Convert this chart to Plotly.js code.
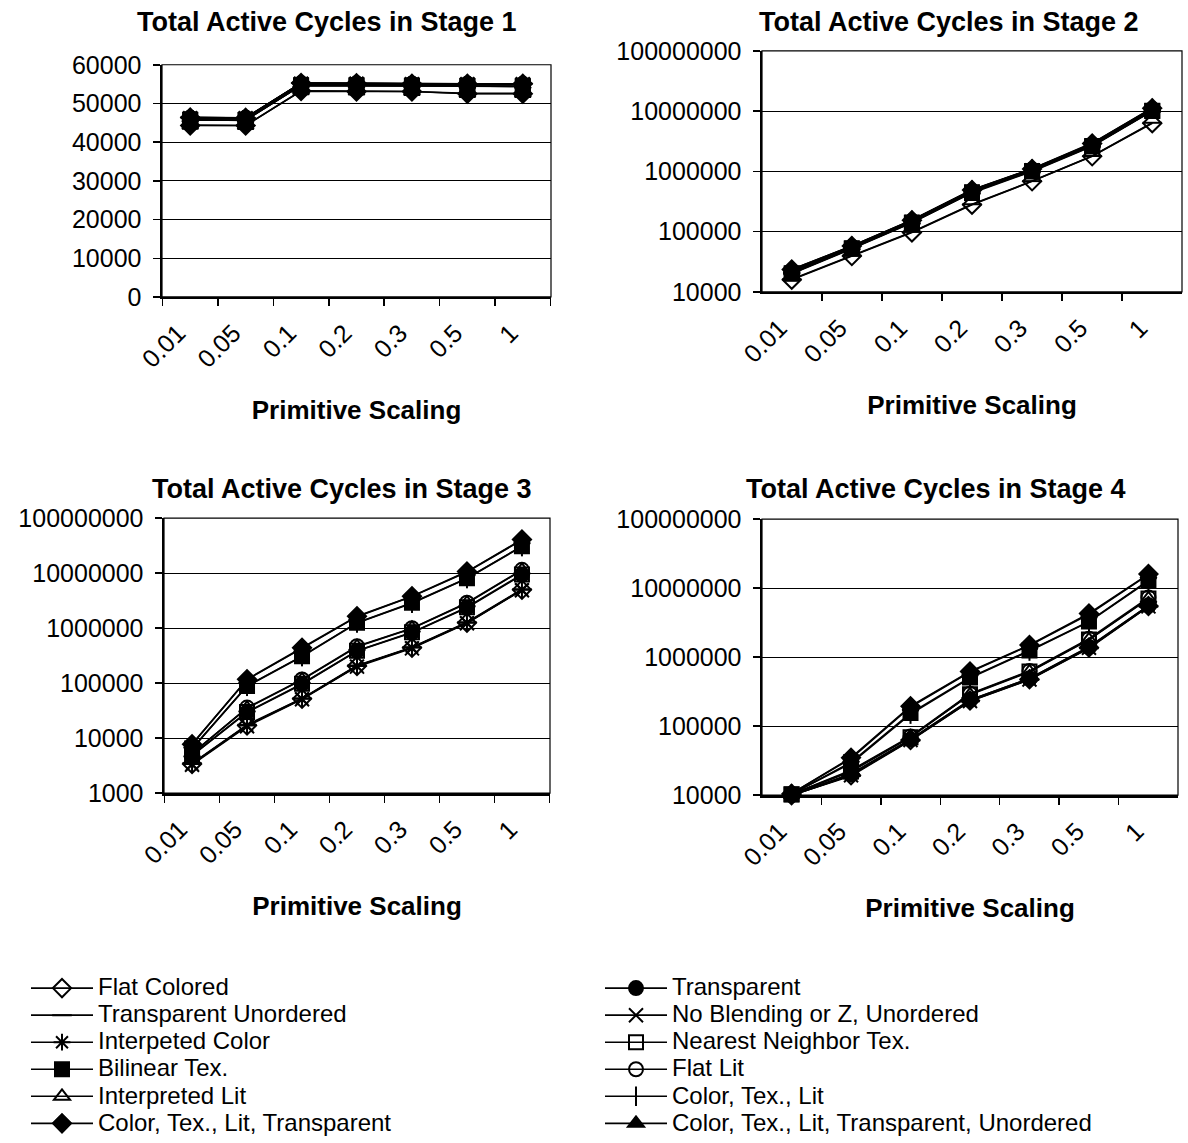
<!DOCTYPE html>
<html>
<head>
<meta charset="utf-8">
<script src="https://cdn.plot.ly/plotly-3.0.1.min.js"></script>
<style>
html,body{margin:0;padding:0;background:#fff;width:1188px;height:1143px;overflow:hidden;}
#chart{position:absolute;left:0;top:0;width:1188px;height:1143px;}
</style>
</head>
<body>
<div id="chart"></div>
<script>
// ---------- data ----------
const categories = ['0.01', '0.05', '0.1', '0.2', '0.3', '0.5', '1'];

const seriesNames = [
  'Flat Colored',
  'Transparent',
  'Transparent Unordered',
  'No Blending or Z, Unordered',
  'Interpeted Color',
  'Nearest Neighbor Tex.',
  'Bilinear Tex.',
  'Flat Lit',
  'Interpreted Lit',
  'Color, Tex., Lit',
  'Color, Tex., Lit, Transparent',
  'Color, Tex., Lit, Transparent, Unordered'
];

const stageTitles = [
  'Total Active Cycles in Stage 1',
  'Total Active Cycles in Stage 2',
  'Total Active Cycles in Stage 3',
  'Total Active Cycles in Stage 4'
];

const stage1Cycles = [
  [46400, 46300, 55300, 55200, 55100, 55100, 55100],
  [46300, 46300, 55200, 55100, 55100, 55000, 55000],
  [46400, 46200, 55300, 55200, 55100, 55000, 55100],
  [46200, 46200, 55100, 55100, 55000, 55000, 55000],
  [46300, 46200, 55200, 55100, 55000, 55000, 55000],
  [45800, 45700, 54700, 54700, 54600, 54500, 54500],
  [45700, 45700, 54600, 54600, 54500, 54500, 54400],
  [46300, 46300, 55200, 55200, 55100, 55100, 55000],
  [46200, 46100, 55100, 55000, 55000, 54900, 54900],
  [45800, 45600, 54700, 54600, 54500, 54400, 54400],
  [44300, 44300, 53200, 53100, 53100, 52500, 52500],
  [44400, 44300, 53300, 53200, 53100, 52600, 52600]
];

const stage2Cycles = [
  [16000, 39500, 97000, 280000, 685000, 1780000, 6300000],
  [21000, 54000, 146000, 460000, 1050000, 2700000, 10400000],
  [16200, 40000, 99000, 285000, 690000, 1800000, 6400000],
  [20500, 53000, 144000, 455000, 1040000, 2650000, 10200000],
  [21000, 55000, 148000, 465000, 1070000, 2750000, 10500000],
  [20000, 52000, 140000, 440000, 1000000, 2600000, 10000000],
  [20500, 53000, 142000, 450000, 1020000, 2650000, 10100000],
  [22000, 56000, 150000, 475000, 1080000, 2800000, 10800000],
  [22500, 57000, 152000, 480000, 1090000, 2850000, 11000000],
  [23000, 57000, 153000, 485000, 1090000, 2850000, 11000000],
  [23500, 58000, 155000, 490000, 1100000, 2900000, 11200000],
  [23500, 58000, 156000, 495000, 1110000, 2950000, 11300000]
];

const stage3Cycles = [
  [3400, 17000, 52000, 205000, 440000, 1260000, 5000000],
  [4800, 29500, 96000, 385000, 830000, 2350000, 9300000],
  [3500, 17500, 53000, 210000, 450000, 1280000, 5100000],
  [3300, 16500, 51000, 200000, 430000, 1230000, 4900000],
  [3400, 17000, 52000, 205000, 445000, 1250000, 5000000],
  [4900, 30000, 98000, 390000, 840000, 2400000, 9500000],
  [6500, 89000, 310000, 1260000, 2900000, 8100000, 31000000],
  [5200, 36000, 117000, 470000, 1000000, 2900000, 11500000],
  [5300, 35000, 115000, 460000, 990000, 2850000, 11300000],
  [6400, 88000, 305000, 1240000, 2850000, 8000000, 30500000],
  [7800, 118000, 440000, 1650000, 3800000, 10700000, 41000000],
  [7700, 116000, 430000, 1620000, 3750000, 10500000, 40000000]
];

const stage4Cycles = [
  [10000, 19500, 63000, 235000, 480000, 1380000, 5500000],
  [10100, 20000, 64000, 240000, 490000, 1400000, 5600000],
  [10000, 19000, 62000, 230000, 470000, 1350000, 5400000],
  [9900, 19500, 63000, 232000, 475000, 1370000, 5450000],
  [10100, 20500, 65000, 240000, 490000, 1420000, 5600000],
  [10200, 22000, 69000, 290000, 620000, 1800000, 7100000],
  [10300, 30000, 155000, 510000, 1250000, 3300000, 13000000],
  [10300, 23000, 71000, 295000, 630000, 1850000, 7300000],
  [10200, 22500, 70000, 285000, 610000, 1780000, 7000000],
  [10400, 29000, 150000, 500000, 1230000, 3250000, 12700000],
  [10500, 35000, 195000, 620000, 1500000, 4300000, 16000000],
  [10600, 34000, 190000, 610000, 1480000, 4200000, 15700000]
];

// ---------- styles ----------
const symbols = [
  'diamond-open', 'circle', 'line-ew-open', 'x-thin-open', 'asterisk-open', 'square-open',
  'square', 'circle-open', 'triangle-up-open', 'line-ns-open', 'diamond', 'triangle-up'
];
const FONT = 'Arial, "Liberation Sans", Helvetica, sans-serif';
const stages = [stage1Cycles, stage2Cycles, stage3Cycles, stage4Cycles];

const W = 1188, H = 1143;
// plot areas in pixels: [left, right, top, bottom]
const boxes = [
  [162, 551, 65, 298],
  [762, 1182, 51, 293],
  [164, 550, 520, 796],
  [762, 1178, 521, 798]
];
const titleCenters = [[327, 22], [949, 22], [342, 491], [936, 491]];

const traces = [];
stages.forEach((data, s) => {
  const suf = s === 0 ? '' : String(s + 1);
  data.forEach((vals, i) => {
    traces.push({
      type: 'scatter',
      mode: 'lines+markers',
      x: categories,
      y: vals,
      name: '<span style="font-size:24px">' + seriesNames[i] + '</span>',
      xaxis: 'x' + suf,
      yaxis: 'y' + suf,
      cliponaxis: false,
      showlegend: s === 0,
      legend: (i % 2 === 0) ? 'legend' : 'legend2',
      line: {color: '#000', width: 1.6},
      marker: {
        symbol: symbols[i],
        size: 14,
        color: '#000',
        line: {color: '#000', width: 2}
      },
      hoverinfo: 'x+y+name'
    });
  });
});

const legendBase = {
  y: 1 - 973 / H, xanchor: 'left', yanchor: 'top',
  font: {family: FONT, size: 18.5, color: '#000'},
  bgcolor: 'rgba(0,0,0,0)', tracegroupgap: 0, itemwidth: 62
};

const layout = {
  width: W, height: H,
  margin: {l: 0, r: 0, t: 0, b: 0},
  paper_bgcolor: '#fff',
  plot_bgcolor: '#fff',
  font: {family: FONT, color: '#000', size: 22},
  showlegend: true,
  legend: Object.assign({x: 26 / W}, legendBase),
  legend2: Object.assign({x: 600 / W}, legendBase),
  annotations: [],
  shapes: []
};

boxes.forEach((b, s) => {
  const suf = s === 0 ? '' : String(s + 1);
  const isLog = s > 0;
  layout['xaxis' + suf] = {
    domain: [b[0] / W, b[1] / W],
    anchor: 'y' + suf,
    type: 'category',
    tickson: 'boundaries',
    ticks: 'outside', ticklen: 7, tickwidth: 1.5, tickcolor: '#000',
    tickangle: -45,
    tickfont: {family: FONT, size: 25, color: '#000'},
    ticklabelstandoff: 9,
    ticklabelshift: -12,
    showline: true, linecolor: '#000', linewidth: 2.5,
    showgrid: false, zeroline: false,
    automargin: false,
    fixedrange: true,
    title: {text: '<b>Primitive Scaling</b>', font: {family: FONT, size: 26, color: '#000'}, standoff: 29}
  };
  const ya = {
    domain: [1 - b[3] / H, 1 - b[2] / H],
    anchor: 'x' + suf,
    ticks: 'outside', ticklen: 7, tickwidth: 1.5, tickcolor: '#000',
    tickfont: {family: FONT, size: 25, color: '#000'},
    ticklabelstandoff: 6,
    showline: true, linecolor: '#000', linewidth: 2.5,
    showgrid: true, gridcolor: '#000', gridwidth: 1.2,
    zeroline: false, automargin: false, fixedrange: true
  };
  if (isLog) {
    ya.type = 'log';
    ya.range = s === 2 ? [3, 8] : [4, 8];
    ya.dtick = 1;
    ya.tickformat = 'd';
  } else {
    ya.range = [0, 60000];
    ya.dtick = 10000;
    ya.tickformat = 'd';
  }
  layout['yaxis' + suf] = ya;

  layout.shapes.push({
    type: 'rect', xref: 'x' + suf + ' domain', yref: 'y' + suf + ' domain',
    x0: 0, x1: 1, y0: 0, y1: 1, line: {color: '#000', width: 1.2}, layer: 'below'
  });
  layout.annotations.push({
    text: '<b>' + stageTitles[s] + '</b>',
    xref: 'paper', yref: 'paper',
    x: titleCenters[s][0] / W, y: 1 - titleCenters[s][1] / H,
    xanchor: 'center', yanchor: 'middle', showarrow: false,
    font: {family: FONT, size: 27, color: '#000'}
  });
});

Plotly.newPlot('chart', traces, layout, {displayModeBar: false, staticPlot: true});
</script>
</body>
</html>
